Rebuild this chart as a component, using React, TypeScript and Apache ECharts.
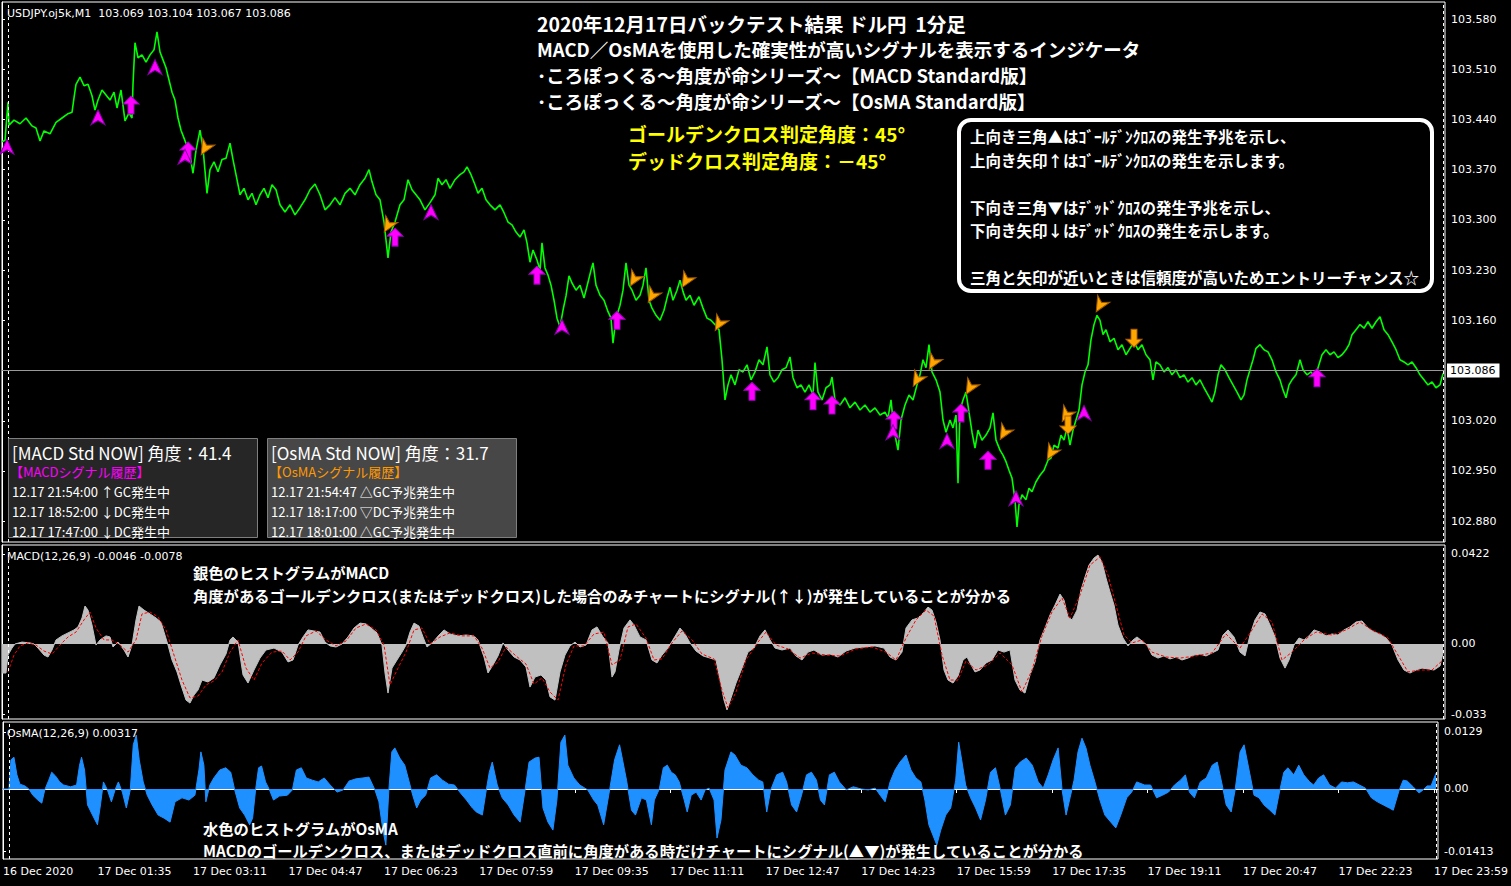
import React, { useEffect, useRef } from "react";
import * as echarts from "echarts";

const JP = '"Noto Sans CJK JP", sans-serif';
const AX = '"DejaVu Sans", sans-serif';

// time axis: minutes of 17 Dec 2020 (1 bar = 1 minute)
const TIME_TICKS = [0, 95, 191, 287, 383, 479, 575, 671, 767, 863, 959, 1055, 1151, 1247, 1343, 1439];
const TIME_LABELS = ["16 Dec 2020", "17 Dec 01:35", "17 Dec 03:11", "17 Dec 04:47", "17 Dec 06:23", "17 Dec 07:59", "17 Dec 09:35", "17 Dec 11:11", "17 Dec 12:47", "17 Dec 14:23", "17 Dec 15:59", "17 Dec 17:35", "17 Dec 19:11", "17 Dec 20:47", "17 Dec 22:23", "17 Dec 23:59"];
const DAY_SEPARATORS = [6, 1441];

const PRICE_TICKS = [103.58, 103.51, 103.44, 103.37, 103.3, 103.23, 103.16, 103.02, 102.95, 102.88];
const CURRENT_PRICE = 103.086;
const MACD_TICKS = [0.0422, 0, -0.033];
const MACD_TICK_LABELS = ["0.0422", "0.00", "-0.033"];
const OSMA_TICKS = [0.0129, 0, -0.01413];
const OSMA_TICK_LABELS = ["0.0129", "0.00", "-0.01413"];

// USDJPY M1 close, [minute, price]
const PRICE: [number, number][] = [
  [0, 103.409], [3, 103.411], [6, 103.464], [7, 103.432], [12, 103.439], [18, 103.434], [24, 103.442], [30, 103.431], [34, 103.428], [38, 103.41],
  [42, 103.424], [48, 103.42], [54, 103.436], [60, 103.442], [66, 103.448], [70, 103.45], [72, 103.47], [74, 103.489], [78, 103.499], [82, 103.487],
  [86, 103.489], [90, 103.473], [93, 103.453], [96, 103.467], [100, 103.481], [104, 103.474], [108, 103.467], [112, 103.478], [115, 103.456], [119, 103.481],
  [123, 103.438], [127, 103.449], [130, 103.442], [131, 103.489], [133, 103.547], [136, 103.526], [140, 103.53], [144, 103.52], [148, 103.53], [152, 103.537],
  [155, 103.562], [158, 103.534], [161, 103.523], [164, 103.512], [167, 103.495], [170, 103.478], [173, 103.467], [176, 103.442], [179, 103.425], [182, 103.414],
  [185, 103.403], [188, 103.39], [191, 103.365], [194, 103.397], [198, 103.425], [201, 103.4], [205, 103.337], [208, 103.37], [212, 103.381], [216, 103.367],
  [220, 103.384], [224, 103.386], [228, 103.407], [231, 103.384], [234, 103.363], [238, 103.335], [242, 103.344], [246, 103.328], [250, 103.337], [254, 103.321],
  [258, 103.335], [262, 103.344], [266, 103.331], [270, 103.349], [274, 103.342], [278, 103.321], [283, 103.311], [288, 103.321], [293, 103.307], [298, 103.317],
  [303, 103.328], [308, 103.342], [313, 103.35], [318, 103.335], [323, 103.314], [328, 103.321], [333, 103.331], [338, 103.321], [343, 103.337], [348, 103.344],
  [353, 103.335], [358, 103.349], [363, 103.358], [367, 103.37], [370, 103.353], [374, 103.335], [378, 103.328], [382, 103.297], [386, 103.247], [389, 103.283],
  [393, 103.297], [398, 103.321], [402, 103.328], [406, 103.356], [410, 103.342], [414, 103.335], [418, 103.328], [423, 103.314], [428, 103.324], [433, 103.335],
  [436, 103.358], [440, 103.349], [444, 103.356], [448, 103.344], [453, 103.356], [458, 103.363], [462, 103.367], [465, 103.374], [469, 103.363], [473, 103.349],
  [476, 103.337], [480, 103.344], [484, 103.328], [488, 103.321], [493, 103.314], [498, 103.321], [502, 103.31], [506, 103.297], [510, 103.293], [514, 103.283],
  [518, 103.276], [522, 103.286], [525, 103.268], [528, 103.241], [531, 103.258], [535, 103.244], [538, 103.23], [540, 103.268], [543, 103.233], [546, 103.223],
  [549, 103.209], [552, 103.188], [555, 103.163], [558, 103.151], [561, 103.174], [564, 103.194], [567, 103.222], [570, 103.212], [574, 103.202], [578, 103.209],
  [582, 103.191], [586, 103.213], [589, 103.23], [591, 103.24], [594, 103.209], [598, 103.195], [602, 103.188], [606, 103.172], [609, 103.163], [611, 103.128],
  [614, 103.163], [618, 103.181], [621, 103.202], [624, 103.24], [627, 103.209], [630, 103.202], [634, 103.188], [638, 103.195], [641, 103.209], [644, 103.233],
  [647, 103.188], [650, 103.177], [654, 103.167], [658, 103.16], [662, 103.174], [665, 103.191], [668, 103.206], [671, 103.188], [675, 103.202], [678, 103.216],
  [681, 103.2], [684, 103.188], [688, 103.195], [692, 103.181], [697, 103.193], [701, 103.177], [705, 103.163], [709, 103.16], [713, 103.154], [717, 103.147],
  [720, 103.105], [723, 103.049], [726, 103.07], [729, 103.084], [733, 103.07], [737, 103.091], [741, 103.088], [745, 103.098], [749, 103.077], [753, 103.088],
  [757, 103.105], [761, 103.098], [765, 103.123], [768, 103.084], [772, 103.074], [776, 103.08], [780, 103.091], [784, 103.094], [788, 103.109], [791, 103.08],
  [795, 103.066], [799, 103.07], [803, 103.06], [807, 103.07], [811, 103.056], [813, 103.101], [816, 103.06], [820, 103.049], [824, 103.066], [828, 103.07],
  [830, 103.081], [833, 103.049], [838, 103.042], [843, 103.052], [848, 103.038], [853, 103.046], [858, 103.035], [863, 103.042], [868, 103.032], [873, 103.038],
  [878, 103.028], [883, 103.032], [886, 103.024], [889, 103.049], [892, 103.007], [896, 102.979], [899, 103.021], [903, 103.042], [907, 103.056], [911, 103.049],
  [915, 103.07], [918, 103.084], [921, 103.105], [924, 103.094], [927, 103.126], [930, 103.088], [934, 103.077], [938, 103.06], [941, 103.021], [944, 103.004],
  [948, 103.021], [951, 103.01], [954, 103.028], [956, 102.933], [958, 103.035], [961, 103.049], [964, 103.06], [967, 103.032], [970, 103.004], [973, 102.982],
  [976, 103.007], [980, 102.993], [984, 103.0], [988, 103.01], [991, 103.031], [994, 102.993], [998, 102.979], [1001, 102.972], [1004, 102.963], [1007, 102.951],
  [1010, 102.94], [1013, 102.91], [1015, 102.872], [1017, 102.903], [1020, 102.917], [1024, 102.91], [1027, 102.926], [1030, 102.921], [1034, 102.935], [1038, 102.944],
  [1042, 102.951], [1046, 102.965], [1049, 102.968], [1052, 102.986], [1056, 102.982], [1059, 103.0], [1062, 102.993], [1065, 103.01], [1068, 102.986], [1071, 103.007],
  [1074, 103.021], [1077, 103.035], [1080, 103.07], [1083, 103.088], [1086, 103.098], [1089, 103.133], [1092, 103.154], [1095, 103.167], [1098, 103.16], [1101, 103.14],
  [1104, 103.147], [1108, 103.13], [1112, 103.135], [1116, 103.119], [1120, 103.126], [1124, 103.112], [1128, 103.121], [1132, 103.13], [1136, 103.119], [1140, 103.126],
  [1144, 103.112], [1148, 103.105], [1151, 103.077], [1154, 103.102], [1158, 103.098], [1162, 103.088], [1166, 103.094], [1170, 103.084], [1174, 103.091], [1178, 103.08],
  [1182, 103.084], [1186, 103.074], [1190, 103.08], [1194, 103.07], [1198, 103.077], [1202, 103.066], [1206, 103.056], [1210, 103.046], [1213, 103.06], [1216, 103.084],
  [1219, 103.098], [1223, 103.091], [1227, 103.08], [1231, 103.07], [1235, 103.06], [1239, 103.049], [1242, 103.056], [1245, 103.077], [1248, 103.091], [1251, 103.105],
  [1254, 103.121], [1258, 103.126], [1262, 103.119], [1266, 103.116], [1270, 103.105], [1274, 103.088], [1278, 103.077], [1281, 103.063], [1284, 103.052], [1287, 103.07],
  [1290, 103.077], [1294, 103.084], [1298, 103.105], [1301, 103.091], [1305, 103.084], [1309, 103.088], [1313, 103.08], [1316, 103.094], [1320, 103.112], [1324, 103.119],
  [1328, 103.112], [1332, 103.116], [1336, 103.108], [1340, 103.112], [1344, 103.119], [1347, 103.126], [1350, 103.14], [1354, 103.147], [1358, 103.154], [1362, 103.149],
  [1366, 103.158], [1370, 103.149], [1374, 103.158], [1378, 103.165], [1382, 103.147], [1386, 103.14], [1390, 103.13], [1394, 103.119], [1398, 103.105], [1402, 103.102],
  [1406, 103.098], [1410, 103.102], [1414, 103.094], [1418, 103.084], [1422, 103.077], [1426, 103.07], [1430, 103.074], [1434, 103.066], [1438, 103.07], [1441, 103.086],
];

// signal markers on the price chart, [minute, price]
const UP_ARROWS: [number, number][] = [[129, 103.46], [186, 103.396], [393, 103.276], [535, 103.223], [615, 103.16], [750, 103.061], [811, 103.048], [830, 103.042], [892, 103.021], [959, 103.031], [986, 102.965], [1315, 103.08]];
const UP_TRIANGLES: [number, number][] = [[5, 103.402], [96, 103.443], [153, 103.513], [183, 103.388], [429, 103.311], [560, 103.151], [891, 103.004], [945, 102.992], [1014, 102.912], [1082, 103.031]];
const DOWN_TRIANGLES: [number, number][] = [[203, 103.4], [386, 103.292], [632, 103.217], [650, 103.194], [684, 103.215], [717, 103.155], [915, 103.077], [931, 103.101], [968, 103.066], [1002, 103.003], [1049, 102.975], [1064, 103.028], [1098, 103.181]];
const DOWN_ARROWS: [number, number][] = [[1066, 103.014], [1132, 103.135]];

// MACD main line (histogram), [minute, value]
const MACD: [number, number][] = [
  [0, -0.0136], [4, -0.0136], [6, -0.0052], [10, -0.0019], [13, 0], [20, 0.0009], [28, 0.0005], [32, 0], [36, -0.0019], [42, -0.0052],
  [46, -0.0061], [50, -0.0028], [54, 0.0019], [60, 0.0038], [66, 0.0052], [72, 0.0066], [76, 0.008], [80, 0.0122], [83, 0.0178], [86, 0.0159],
  [90, 0.0089], [94, -0.0005], [98, 0.0019], [104, 0.0038], [108, 0.0033], [111, -0.0014], [116, 0.0009], [122, -0.0028], [126, -0.0061], [130, -0.0005],
  [134, 0.0113], [137, 0.0178], [142, 0.0159], [148, 0.0141], [154, 0.0122], [159, 0.0103], [162, 0.0056], [166, -0.0005], [170, -0.0075], [175, -0.0131],
  [179, -0.0192], [184, -0.0263], [188, -0.0277], [192, -0.0239], [196, -0.0216], [200, -0.0169], [206, -0.0178], [212, -0.0159], [218, -0.0098], [224, -0.0047],
  [228, 0.0019], [231, 0.0033], [236, 0.0009], [241, -0.0145], [246, -0.0183], [252, -0.0122], [258, -0.0066], [264, -0.0028], [272, -0.0019], [280, -0.0038],
  [286, -0.0084], [291, -0.0075], [296, -0.0005], [301, 0.0033], [306, 0.0066], [312, 0.0061], [318, 0.0056], [323, 0.0009], [328, -0.0009], [334, -0.0014],
  [340, 0], [346, 0.0033], [352, 0.0075], [358, 0.0098], [364, 0.0094], [369, 0.0075], [375, 0.0052], [380, -0.0005], [383, -0.0136], [386, -0.023],
  [390, -0.0113], [395, -0.0075], [400, -0.0038], [404, -0.0005], [408, 0.0056], [412, 0.0098], [417, 0.0084], [421, 0.0033], [425, -0.0014], [431, 0.0009],
  [437, 0.0042], [442, 0.0066], [448, 0.0047], [456, 0.0038], [464, 0.0042], [472, 0.0038], [476, 0.0019], [482, -0.0061], [486, -0.0136], [491, -0.0098],
  [496, -0.0056], [501, 0.0005], [506, -0.0028], [512, -0.0061], [518, -0.0075], [524, -0.0108], [528, -0.0202], [533, -0.0155], [539, -0.0145], [544, -0.0169],
  [548, -0.0248], [553, -0.0263], [558, -0.0131], [563, -0.0052], [568, -0.0009], [573, 0.0009], [578, -0.0014], [584, -0.0005], [590, 0.0066], [595, 0.008],
  [601, 0.0033], [606, 0.0005], [610, -0.0155], [613, -0.0131], [617, -0.0028], [622, 0.0075], [628, 0.0113], [632, 0.0089], [638, 0.0033], [644, 0.0019],
  [650, -0.0075], [655, -0.0089], [660, -0.0052], [666, -0.0019], [672, 0.0028], [678, 0.0075], [683, 0.0047], [688, 0.0005], [694, -0.0033], [701, -0.0056],
  [708, -0.0066], [714, -0.0075], [718, -0.0169], [722, -0.0263], [725, -0.0309], [729, -0.0253], [734, -0.0183], [740, -0.0113], [746, -0.0038], [752, -0.0019],
  [758, 0.0038], [763, 0.0066], [768, 0.0019], [773, -0.0019], [780, -0.0028], [788, -0.0019], [794, -0.0056], [800, -0.0075], [806, -0.0038], [812, -0.0028],
  [820, -0.0052], [828, -0.0047], [836, -0.0061], [844, -0.0033], [853, -0.0019], [863, -0.0014], [873, -0.0009], [882, -0.0019], [888, -0.0061], [894, -0.0075],
  [900, -0.0038], [904, 0.0075], [910, 0.0113], [916, 0.0122], [922, 0.015], [926, 0.0173], [930, 0.0159], [934, 0.0103], [938, 0.0019], [942, -0.0122],
  [946, -0.0169], [951, -0.0183], [956, -0.015], [961, -0.0075], [965, -0.0061], [969, -0.0098], [973, -0.0131], [978, -0.0122], [984, -0.0089], [990, -0.0075],
  [996, -0.0028], [1002, -0.0038], [1008, -0.0028], [1013, -0.0169], [1018, -0.0216], [1023, -0.023], [1028, -0.0145], [1033, -0.0084], [1038, 0.0019], [1043, 0.0075],
  [1048, 0.0136], [1053, 0.0183], [1058, 0.0234], [1062, 0.0206], [1066, 0.0127], [1070, 0.0113], [1075, 0.0159], [1079, 0.0253], [1083, 0.0314], [1087, 0.037],
  [1092, 0.0403], [1096, 0.0417], [1100, 0.0384], [1104, 0.0309], [1108, 0.0244], [1112, 0.0183], [1116, 0.0089], [1121, 0.0028], [1126, -0.0009], [1131, 0.0019],
  [1135, 0.0033], [1140, 0.0014], [1145, -0.0005], [1150, -0.0052], [1156, -0.0066], [1162, -0.0056], [1168, -0.007], [1174, -0.0061], [1180, -0.0075], [1186, -0.0066],
  [1192, -0.0052], [1198, -0.0047], [1204, -0.0056], [1210, -0.0042], [1216, -0.0028], [1221, 0.0042], [1226, 0.0066], [1232, 0.0033], [1238, -0.0038], [1243, -0.0056],
  [1248, 0.0042], [1253, 0.0113], [1258, 0.015], [1263, 0.0141], [1268, 0.0089], [1273, 0.0033], [1278, -0.0066], [1283, -0.0113], [1287, -0.0075], [1292, -0.0005],
  [1297, 0.0028], [1302, 0.0019], [1307, 0.0038], [1312, 0.0066], [1318, 0.0056], [1324, 0.0038], [1330, 0.0047], [1336, 0.0042], [1342, 0.0066], [1348, 0.008],
  [1354, 0.0103], [1360, 0.0108], [1366, 0.0075], [1372, 0.0056], [1378, 0.0047], [1384, 0.0028], [1390, -0.0005], [1396, -0.0075], [1402, -0.0122], [1408, -0.0136],
  [1414, -0.0122], [1420, -0.0113], [1426, -0.0117], [1432, -0.0122], [1438, -0.0103], [1441, -0.0042],
];

// MACD signal line, [minute, value]
const SIGNAL: [number, number][] = [
  [6, -0.0131], [12, -0.0052], [18, -0.0009], [26, 0.0005], [34, -0.0005], [42, -0.0033], [50, -0.0047], [58, -0.0005], [66, 0.0033], [74, 0.0056],
  [82, 0.0113], [88, 0.015], [94, 0.0075], [102, 0.0019], [110, 0.0019], [118, -0.0005], [126, -0.0038], [134, 0.0019], [140, 0.0141], [148, 0.015],
  [156, 0.0127], [164, 0.0066], [172, -0.0052], [180, -0.0169], [188, -0.0253], [196, -0.0244], [204, -0.0192], [212, -0.0173], [220, -0.0131], [228, -0.0038],
  [236, 0.0019], [244, -0.0113], [252, -0.0169], [260, -0.0089], [270, -0.0038], [280, -0.0033], [288, -0.0075], [296, -0.0038], [304, 0.0038], [314, 0.0061],
  [324, 0.0019], [334, -0.0009], [344, 0.0014], [354, 0.0075], [364, 0.0094], [374, 0.0066], [382, -0.0005], [388, -0.0192], [396, -0.0113], [404, -0.0038],
  [412, 0.0066], [420, 0.0075], [428, 0], [438, 0.0033], [448, 0.0052], [460, 0.0038], [472, 0.0038], [480, -0.0019], [488, -0.0113], [496, -0.0084],
  [504, -0.0014], [514, -0.0056], [524, -0.0094], [532, -0.0188], [540, -0.0159], [548, -0.0225], [556, -0.0263], [564, -0.0098], [572, -0.0009], [582, -0.0009],
  [592, 0.0047], [602, 0.0056], [610, -0.0098], [618, -0.0075], [626, 0.008], [634, 0.0094], [644, 0.0028], [652, -0.0075], [660, -0.007], [670, 0.0005],
  [680, 0.0061], [690, 0.0019], [700, -0.0047], [712, -0.007], [720, -0.0216], [726, -0.03], [734, -0.0225], [744, -0.0075], [756, 0.0009], [764, 0.0056],
  [774, -0.0005], [786, -0.0023], [798, -0.0066], [810, -0.0042], [824, -0.0052], [838, -0.0056], [854, -0.0023], [870, -0.0014], [884, -0.0038], [894, -0.0075],
  [904, 0.0028], [914, 0.0113], [924, 0.0159], [932, 0.0131], [940, -0.0052], [948, -0.0169], [956, -0.0169], [964, -0.008], [974, -0.0122], [986, -0.0098],
  [998, -0.0042], [1010, -0.0098], [1020, -0.0225], [1030, -0.0122], [1040, 0.0038], [1050, 0.015], [1060, 0.0216], [1068, 0.0122], [1078, 0.023], [1088, 0.037],
  [1098, 0.0408], [1106, 0.0323], [1114, 0.0183], [1122, 0.0042], [1130, 0.0005], [1140, 0.0019], [1150, -0.0038], [1164, -0.0061], [1178, -0.0066], [1194, -0.0056],
  [1210, -0.0042], [1224, 0.0047], [1238, -0.0019], [1250, 0.0066], [1260, 0.0141], [1270, 0.0103], [1280, -0.0075], [1290, -0.0038], [1302, 0.0019], [1314, 0.0056],
  [1330, 0.0042], [1344, 0.0066], [1358, 0.0103], [1370, 0.0066], [1386, 0.0028], [1396, -0.0052], [1406, -0.0131], [1418, -0.0122], [1430, -0.0122], [1441, -0.0075],
];

// OsMA histogram, [minute, value]
const OSMA: [number, number][] = [
  [0, 0], [6, 0], [8, 0.0066], [11, 0.0072], [14, 0.0032], [17, 0.0011], [22, 0.0007], [26, 0], [30, -0.0014], [35, -0.0025],
  [39, -0.0032], [42, -0.0002], [46, 0.002], [49, 0.0038], [53, 0.0029], [57, 0.0016], [61, 0.0009], [68, 0.0005], [74, 0.0009], [77, 0.0054],
  [79, 0.0072], [82, 0.0043], [85, -0.0036], [90, -0.0059], [95, -0.0081], [98, -0.0036], [101, 0.0016], [105, -0.0002], [109, -0.0029], [113, 0],
  [116, 0.0016], [120, -0.0007], [124, -0.0043], [128, -0.0002], [131, 0.01], [134, 0.0122], [137, 0.0066], [141, 0.0016], [145, -0.0014], [150, -0.0036],
  [156, -0.0059], [162, -0.0066], [168, -0.0075], [173, -0.0029], [180, -0.002], [187, -0.0025], [193, -0.0014], [197, 0.0043], [199, 0.0084], [202, 0.0054],
  [204, -0.0029], [208, 0.0009], [212, 0.0025], [218, 0.0043], [224, 0.0048], [229, 0.0038], [233, -0.0002], [238, -0.0043], [243, -0.0059], [248, -0.0081],
  [251, -0.0066], [254, -0.0002], [257, 0.0048], [260, 0.0052], [264, 0.0016], [268, -0.0002], [272, -0.0025], [278, -0.0016], [286, -0.0014], [291, -0.0002],
  [295, 0.0043], [300, 0.0048], [305, 0.0025], [311, 0.002], [317, 0.0016], [323, 0.0025], [329, 0.0009], [336, -0.0007], [342, -0.0002], [348, 0.0018],
  [355, 0.0023], [362, 0.0025], [368, 0.0027], [374, -0.0002], [378, -0.0029], [382, -0.0093], [385, -0.0127], [388, -0.0002], [391, 0.0084], [394, 0.0093],
  [399, 0.007], [404, 0.0054], [408, 0.002], [412, -0.0014], [416, -0.0043], [420, -0.0025], [425, -0.0014], [430, 0.0025], [436, 0.0032], [442, 0.002],
  [448, 0.0011], [454, 0.0009], [460, -0.0009], [466, -0.0025], [472, -0.0043], [476, -0.0052], [482, -0.0059], [486, -0.0002], [489, 0.0038], [492, 0.0061],
  [497, 0.0009], [502, -0.002], [508, -0.0036], [514, -0.0059], [520, -0.0075], [525, -0.0002], [529, 0.0061], [535, 0.007], [539, 0.0072], [543, -0.0043],
  [548, -0.0075], [553, -0.0093], [557, -0.0025], [561, 0.0106], [565, 0.0122], [568, 0.0054], [574, 0.0025], [580, 0.0009], [588, -0.0002], [594, -0.0025],
  [598, -0.0036], [604, -0.0081], [610, -0.0002], [615, 0.0066], [620, 0.01], [623, 0.0066], [627, 0.002], [632, -0.0048], [636, -0.0059], [642, -0.002],
  [647, -0.0025], [652, -0.0081], [655, -0.0025], [660, 0], [664, 0.0048], [668, 0.0054], [672, 0.0038], [676, 0.0032], [680, 0.0016], [685, -0.0025],
  [688, -0.0052], [692, -0.0014], [697, -0.0007], [702, -0.0025], [706, -0.0002], [710, 0.0002], [715, -0.0025], [718, -0.0111], [722, -0.007], [726, 0.0043],
  [732, 0.0084], [736, 0.0077], [742, 0.0054], [748, 0.0048], [754, 0.0032], [760, 0.002], [764, 0.0016], [768, -0.0052], [772, -0.0002], [778, 0.0032],
  [784, 0.0038], [788, 0.0016], [793, -0.0036], [798, -0.0052], [803, -0.0014], [808, 0.0032], [813, 0.0038], [818, 0.002], [822, -0.0025], [826, -0.0036],
  [831, 0.0032], [836, 0.0038], [841, 0.0016], [848, -0.0002], [855, 0.0005], [863, 0], [870, -0.0002], [877, 0.0002], [882, -0.0014], [887, -0.0029],
  [892, 0.0016], [897, 0.0043], [902, 0.0061], [908, 0.0077], [913, 0.0043], [918, 0.0025], [923, 0.0016], [927, -0.0025], [931, -0.0081], [935, -0.0104],
  [939, -0.0127], [943, -0.0093], [948, -0.0059], [953, -0.0043], [958, 0.002], [961, 0.0106], [964, 0.0066], [968, 0.0009], [973, -0.002], [978, -0.0043],
  [983, -0.007], [988, -0.0025], [993, 0.0038], [998, 0.0048], [1003, -0.0002], [1008, -0.0059], [1013, -0.0036], [1018, 0.0048], [1023, 0.0061], [1029, 0.007],
  [1035, 0.0054], [1041, 0.0016], [1046, 0.0002], [1051, 0.0032], [1056, 0.0066], [1061, 0.0093], [1065, -0.0002], [1069, -0.0059], [1073, -0.002], [1077, 0.002],
  [1081, 0.0084], [1085, 0.0115], [1089, 0.0093], [1093, 0.0054], [1098, 0.0016], [1103, -0.0025], [1108, -0.0059], [1114, -0.0075], [1119, -0.0088], [1124, -0.0059],
  [1130, -0.002], [1135, -0.0007], [1140, 0.0016], [1148, 0.0009], [1154, 0.0009], [1160, -0.002], [1166, -0.0014], [1172, -0.0007], [1178, 0.0009], [1184, 0.002],
  [1189, 0.0032], [1193, -0.0007], [1198, -0.002], [1204, 0.0016], [1210, 0.0025], [1216, 0.0054], [1221, 0.0061], [1226, 0.0009], [1230, -0.0036], [1235, -0.0052],
  [1239, -0.0002], [1244, 0.0084], [1248, 0.01], [1253, 0.0043], [1258, -0.0014], [1263, -0.002], [1268, -0.0036], [1274, -0.0048], [1279, -0.0059], [1284, -0.0002],
  [1288, 0.0038], [1292, 0.0048], [1298, 0.0032], [1303, 0.0054], [1308, 0.0032], [1314, 0.0016], [1318, 0.0009], [1323, 0.0025], [1328, 0.0032], [1334, 0.0009],
  [1340, 0.0002], [1346, 0.0016], [1352, 0.0014], [1358, 0.0016], [1364, 0.0009], [1370, 0.0002], [1376, -0.002], [1382, -0.0029], [1388, -0.0036], [1394, -0.0043],
  [1398, -0.0048], [1404, -0.0002], [1408, 0.002], [1412, 0.0018], [1418, 0.0005], [1424, -0.0009], [1428, -0.0002], [1432, 0.0007], [1436, 0.0007], [1441, 0.0036],
];

const TITLE_LINES = [
  "2020年12月17日バックテスト結果 ドル円\u00a0 1分足",
  "MACD／OsMAを使用した確実性が高いシグナルを表示するインジケータ",
  "･ころぽっくる～角度が命シリーズ～【MACD Standard版】",
  "･ころぽっくる～角度が命シリーズ～【OsMA Standard版】",
];
const TITLE_SIZES = [19.5, 18.5, 18.5, 18.5];
const ANGLE_LINES = ["ゴールデンクロス判定角度：45°", "デッドクロス判定角度：－45°"];
const NOTE_LINES = [
  "上向き三角▲はｺﾞｰﾙﾃﾞﾝｸﾛｽの発生予兆を示し、",
  "上向き矢印↑はｺﾞｰﾙﾃﾞﾝｸﾛｽの発生を示します。",
  "",
  "下向き三角▼はﾃﾞｯﾄﾞｸﾛｽの発生予兆を示し、",
  "下向き矢印↓はﾃﾞｯﾄﾞｸﾛｽの発生を示します。",
  "",
  "三角と矢印が近いときは信頼度が高いためエントリーチャンス☆",
];
const MACD_NOTES = ["銀色のヒストグラムがMACD", "角度があるゴールデンクロス(またはデッドクロス)した場合のみチャートにシグナル(↑↓)が発生していることが分かる"];
const OSMA_NOTES = ["水色のヒストグラムがOsMA", "MACDのゴールデンクロス、またはデッドクロス直前に角度がある時だけチャートにシグナル(▲▼)が発生していることが分かる"];
const MACD_PANEL = ["[MACD Std NOW] 角度：41.4", "【MACDシグナル履歴】", "12.17 21:54:00 ↑GC発生中", "12.17 18:52:00 ↓DC発生中", "12.17 17:47:00 ↓DC発生中"];
const OSMA_PANEL = ["[OsMA Std NOW] 角度：31.7", "【OsMAシグナル履歴】", "12.17 21:54:47 △GC予兆発生中", "12.17 18:17:00 ▽DC予兆発生中", "12.17 18:01:00 △GC予兆発生中"];

const X_MAX = 1443;

function lookup(ticks: number[], labels: string[]) {
  return (v: number) => {
    const i = ticks.findIndex((t) => Math.abs(t - v) < 1e-7);
    return i >= 0 ? labels[i] : "";
  };
}

function txt(text: string, x: number, y: number, size: number, fill: string, weight = "bold", family = JP) {
  return {
    type: "text",
    z: 100,
    silent: true,
    style: { text, x, y, fill, fontSize: size, fontWeight: weight, fontFamily: family, align: "left", verticalAlign: "middle" },
  };
}

function buildOption() {
  const grids = [
    { left: 2, top: 2, width: 1443, height: 540 },
    { left: 2, top: 545, width: 1443, height: 174 },
    { left: 2, top: 722, width: 1443, height: 137 },
  ].map((g) => ({ ...g, show: true, borderColor: "#ffffff", borderWidth: 1, backgroundColor: "#000000" }));

  const timeFmt = lookup(TIME_TICKS, TIME_LABELS);
  const xAxes = [0, 1, 2].map((i) => ({
    type: "value",
    gridIndex: i,
    min: 0,
    max: X_MAX,
    axisLine: { show: i === 2, lineStyle: { color: "#ffffff" } },
    axisTick: { show: i === 2, customValues: TIME_TICKS, length: 4, lineStyle: { color: "#ffffff" } },
    axisLabel: {
      show: i === 2,
      customValues: TIME_TICKS,
      formatter: timeFmt,
      align: "left",
      color: "#ffffff",
      fontFamily: AX,
      fontSize: 11,
      margin: 7,
    },
    splitLine: { show: false },
  }));

  const yAx = (i: number, min: number, max: number, ticks: number[], fmt: (v: number) => string) => ({
    type: "value",
    gridIndex: i,
    position: "right",
    min,
    max,
    axisLine: { show: true, lineStyle: { color: "#ffffff" } },
    axisTick: { show: true, customValues: ticks, length: 3, lineStyle: { color: "#ffffff" } },
    axisLabel: { customValues: ticks, formatter: fmt, color: "#ffffff", fontFamily: AX, fontSize: 11, margin: 6 },
    splitLine: { show: false },
  });

  const sepLines = DAY_SEPARATORS.map((x) => ({
    xAxis: x,
    lineStyle: { color: "#ffffff", type: [3, 3], width: 1 },
    label: { show: false },
  }));

  const graphics: any[] = [];
  graphics.push(txt("USDJPY.oj5k,M1\u00a0\u00a0103.069 103.104 103.067 103.086", 7, 13, 11, "#ffffff", "normal", AX));
  graphics.push(txt("MACD(12,26,9) -0.0046 -0.0078", 7, 556, 11, "#ffffff", "normal", AX));
  graphics.push(txt("OsMA(12,26,9) 0.00317", 7, 733, 11, "#ffffff", "normal", AX));
  TITLE_LINES.forEach((t, i) => graphics.push(txt(t, 537, 23 + i * 26, TITLE_SIZES[i], "#ffffff")));
  ANGLE_LINES.forEach((t, i) => graphics.push(txt(t, 628, 133 + i * 27, 19, "#ffff00")));
  graphics.push({
    type: "rect",
    z: 90,
    silent: true,
    shape: { x: 959, y: 120, width: 473, height: 171, r: 12 },
    style: { fill: "#000000", stroke: "#ffffff", lineWidth: 4 },
  });
  const noteY = [136, 160, 0, 207, 230, 0, 277];
  NOTE_LINES.forEach((t, i) => {
    if (t) graphics.push(txt(t, 970, noteY[i], 15.5, "#ffffff"));
  });
  MACD_NOTES.forEach((t, i) => graphics.push(txt(t, 193, 572 + i * 23, 15.3, "#ffffff")));
  OSMA_NOTES.forEach((t, i) => graphics.push(txt(t, 203, 828 + i * 22, 15.3, "#ffffff")));

  const panel = (x: number, fill: string, lines: string[], accent: string) => {
    graphics.push({
      type: "rect",
      z: 90,
      silent: true,
      shape: { x: x + 0.5, y: 438.5, width: 249, height: 99 },
      style: { fill, stroke: "#7f7f7f", lineWidth: 1 },
    });
    graphics.push(txt(lines[0], x + 4, 452, 17, "#ffffff", "normal"));
    graphics.push(txt(lines[1], x + 2, 471, 13, accent, "normal"));
    graphics.push(txt(lines[2], x + 4, 491, 13, "#ffffff", "normal"));
    graphics.push(txt(lines[3], x + 4, 511, 13, "#ffffff", "normal"));
    graphics.push(txt(lines[4], x + 4, 531, 13, "#ffffff", "normal"));
  };
  panel(8, "#262626", MACD_PANEL, "#ff00ff");
  panel(267, "#474747", OSMA_PANEL, "#ff9900");

  const marker = (data: [number, number][], path: string, size: [number, number], color: string, border: string, rotate = 0) => ({
    type: "scatter",
    xAxisIndex: 0,
    yAxisIndex: 0,
    data,
    symbol: path,
    symbolSize: size,
    symbolRotate: rotate,
    z: 5,
    silent: true,
    itemStyle: { color, borderColor: border, borderWidth: 1, opacity: 1 },
  });

  return {
    animation: false,
    backgroundColor: "#000000",
    grid: grids,
    xAxis: xAxes,
    yAxis: [
      yAx(0, 102.851, 103.6037, PRICE_TICKS, (v: number) => v.toFixed(3)),
      yAx(1, -0.03516, 0.04641, MACD_TICKS, lookup(MACD_TICKS, MACD_TICK_LABELS)),
      yAx(2, -0.01584, 0.01516, OSMA_TICKS, lookup(OSMA_TICKS, OSMA_TICK_LABELS)),
    ],
    graphic: { elements: graphics },
    series: [
      {
        type: "line",
        name: "USDJPY",
        xAxisIndex: 0,
        yAxisIndex: 0,
        data: PRICE,
        showSymbol: false,
        symbol: "none",
        lineStyle: { color: "#00ff00", width: 1.6 },
        itemStyle: { color: "#00ff00" },
        z: 3,
        markLine: {
          silent: true,
          symbol: "none",
          animation: false,
          data: [
            {
              yAxis: CURRENT_PRICE,
              lineStyle: { color: "#9a9a9a", type: "solid", width: 1 },
              label: {
                show: true,
                position: "end",
                distance: 2,
                formatter: CURRENT_PRICE.toFixed(3),
                backgroundColor: "#ffffff",
                color: "#000000",
                padding: [2, 4, 1, 3],
                fontFamily: AX,
                fontSize: 11,
              },
            },
            ...sepLines,
          ],
        },
      },
      marker(UP_ARROWS, "path://M8 0 L16 8 L11 8 L11 18 L5 18 L5 8 L0 8 Z", [16, 18], "#ff00ff", "#a000c0"),
      marker(UP_TRIANGLES, "path://M7 0 L14 14 L7 10 L0 14 Z", [14, 15], "#ff00ff", "#8000a0"),
      marker(DOWN_TRIANGLES, "path://M0 0 L7 4 L14 0 L7 14 Z", [14, 15], "#ffa500", "#a05a00", -30),
      marker(DOWN_ARROWS, "path://M5 0 L11 0 L11 10 L16 10 L8 18 L0 10 L5 10 Z", [16, 18], "#ffa500", "#b06000"),
      {
        type: "line",
        name: "MACD",
        xAxisIndex: 1,
        yAxisIndex: 1,
        data: MACD,
        showSymbol: false,
        symbol: "none",
        lineStyle: { color: "#c0c0c0", width: 1 },
        areaStyle: { color: "#c0c0c0", opacity: 1, origin: 0 },
        z: 2,
        markLine: { silent: true, symbol: "none", animation: false, data: sepLines },
      },
      {
        type: "line",
        name: "Signal",
        xAxisIndex: 1,
        yAxisIndex: 1,
        data: SIGNAL,
        showSymbol: false,
        symbol: "none",
        lineStyle: { color: "#ff0000", width: 1, type: [3, 2] },
        z: 3,
      },
      {
        type: "line",
        name: "OsMA",
        xAxisIndex: 2,
        yAxisIndex: 2,
        data: OSMA,
        showSymbol: false,
        symbol: "none",
        lineStyle: { color: "#1e90ff", width: 1 },
        areaStyle: { color: "#1e90ff", opacity: 1, origin: 0 },
        z: 2,
        markLine: { silent: true, symbol: "none", animation: false, data: sepLines },
      },
    ],
  };
}

export default function App() {
  const ref = useRef<HTMLDivElement>(null);
  useEffect(() => {
    if (!ref.current) return;
    const chart = echarts.init(ref.current, null, { renderer: "svg" });
    chart.setOption(buildOption() as any);
    return () => chart.dispose();
  }, []);
  return (
    <div
      ref={ref}
      style={{ position: "fixed", left: 0, top: 0, width: 1511, height: 886, background: "#000000" }}
    />
  );
}
